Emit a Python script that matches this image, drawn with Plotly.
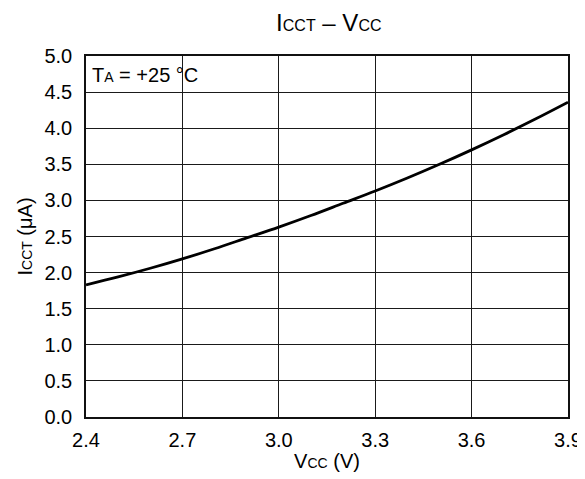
import plotly.graph_objects as go

vcc = [2.4, 2.5, 2.6, 2.7, 2.8, 2.9, 3.0, 3.1, 3.2, 3.3, 3.4, 3.5, 3.6, 3.7, 3.8, 3.9]
icct = [1.83, 1.94, 2.06, 2.19, 2.33, 2.48, 2.63, 2.79, 2.96, 3.13, 3.31, 3.50, 3.70, 3.91, 4.13, 4.36]

x_ticks = [2.4, 2.7, 3.0, 3.3, 3.6, 3.9]
y_ticks = [0.0, 0.5, 1.0, 1.5, 2.0, 2.5, 3.0, 3.5, 4.0, 4.5, 5.0]


def small(s, size=14):
    return "<span style='font-size:%dpx'>%s</span>" % (size, s)


fig = go.Figure()
fig.add_trace(go.Scatter(x=vcc, y=icct, mode='lines', line={'color': 'black', 'width': 2.8, 'shape': 'spline'},
                         showlegend=False, hoverinfo='skip'))

fig.add_annotation(x=0, y=1, xref='paper', yref='paper', xanchor='left', yanchor='top', xshift=4, yshift=-6,
                   text='T' + small('A') + ' = +25 °C', showarrow=False, font={'size': 20, 'color': 'black'})

axis_style = dict(showgrid=True, gridcolor='#1a1a1a', gridwidth=1, showline=True, linecolor='#111', linewidth=1.5,
                  mirror=True, zeroline=False, ticks='', automargin=False, tickfont={'size': 20, 'color': 'black'})

fig.update_xaxes(range=[2.4, 3.9], tickvals=x_ticks, ticktext=['%.1f' % v for v in x_ticks],
                 ticklabelstandoff=4,
                 title={'text': 'V' + small('CC') + ' (V)', 'font': {'size': 20, 'color': 'black'}, 'standoff': 4},
                 **axis_style)
fig.update_yaxes(range=[0, 5], tickvals=y_ticks, ticktext=['%.1f' % v for v in y_ticks],
                 ticklabelstandoff=8,
                 title={'text': 'I' + small('CCT') + ' (μA)', 'font': {'size': 20, 'color': 'black'}, 'standoff': 6},
                 **axis_style)

# page body adds an 8px margin, so the figure is 8px smaller and shifted
fig.update_layout(
    width=577, height=471,
    margin={'l': 78, 'r': 17, 't': 48, 'b': 62},
    paper_bgcolor='white', plot_bgcolor='white',
    font={'family': 'Liberation Sans, Arial, sans-serif', 'color': 'black'},
    title={'text': 'I' + small('CCT', 16) + ' – V' + small('CC', 16), 'x': 0.556, 'xanchor': 'center',
           'y': 0.97, 'yanchor': 'middle', 'font': {'size': 24, 'color': 'black'}},
)

fig.write_html("out.html")
